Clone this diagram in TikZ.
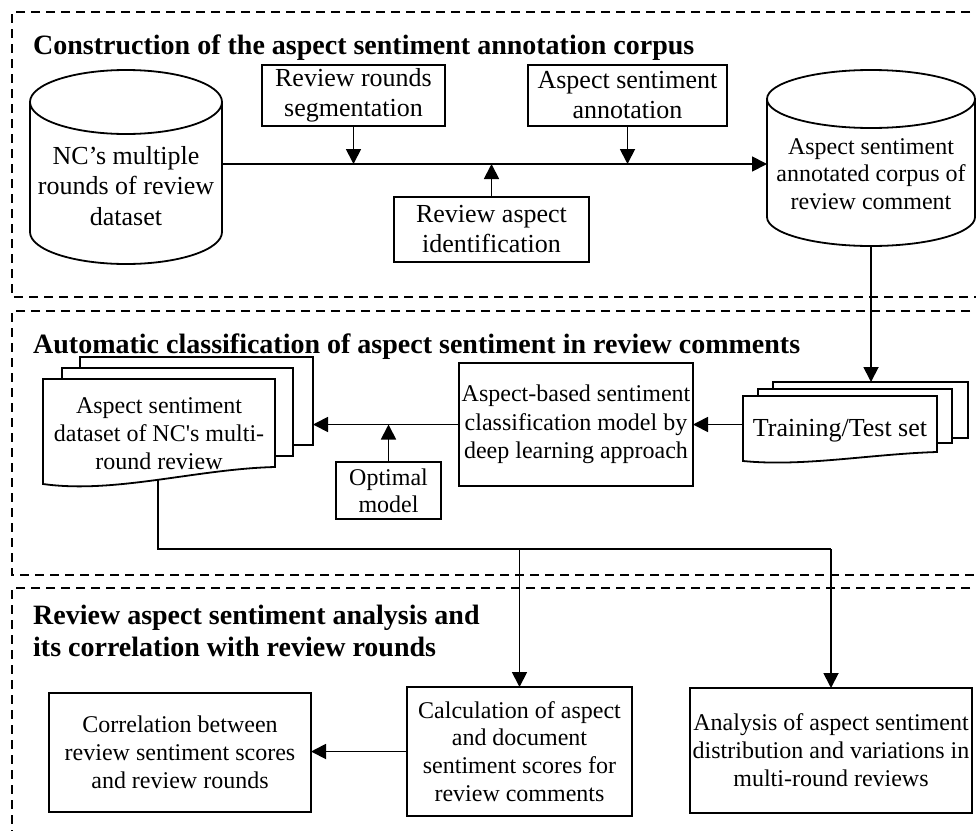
\documentclass[tikz,border=0pt]{standalone}
\usepackage{fontspec}
\setmainfont{Liberation Serif}
\usetikzlibrary{arrows.meta}
\pgfdeclarelayer{bg}
\pgfsetlayers{bg,main}
\tikzset{
  ln/.style={line width=1.8pt},
  box/.style={draw, line width=1.8pt, fill=white, align=center, inner sep=0pt, outer sep=0pt},
  page/.style={draw, line width=1.8pt, fill=white, inner sep=0pt, outer sep=0pt},
  anchorbox/.style={inner sep=0pt, outer sep=0pt},
  fA/.style={font=\fontsize{26}{30}\selectfont},
  fB/.style={font=\fontsize{24}{28}\selectfont},
  ttl/.style={font=\fontsize{28}{32}\selectfont\bfseries, anchor=base west, inner sep=0pt},
  arr/.style={line width=1.8pt, -{Triangle[length=15pt,width=15pt]}},
  sect/.style={line width=1.6pt, dash pattern=on 9pt off 6pt},
}
\begin{document}
\begin{tikzpicture}[x=1pt,y=1pt]
\useasboundingbox (0,0) rectangle (976,-830);

% sections
\draw[sect] (985,-12) -| (12,-297) -- (985,-297);
\draw[sect] (985,-311) -| (12,-575) -- (985,-575);
\draw[sect] (985,-588) -| (12,-845);

% titles
\node[ttl] (t1) at (33,-54) {Construction of the aspect sentiment annotation corpus};
\node[ttl] (t2) at (33,-353) {Automatic classification of aspect sentiment in review comments};
\node[ttl] (t3a) at (33,-624) {Review aspect sentiment analysis and};
\node[ttl] (t3b) at (33,-656) {its correlation with review rounds};

% ---- section 1 ----
% cylinder A
\draw[ln, fill=white] (30,-102) -- (30,-232) arc[start angle=180,end angle=360,x radius=96,y radius=32] -- (222,-102) arc[start angle=0,end angle=180,x radius=96,y radius=32] -- cycle;
\draw[ln] (30,-102) arc[start angle=180,end angle=360,x radius=96,y radius=32];
\node[anchorbox, minimum width=192, minimum height=194] (cylA) at (126,-167) {};
\node[fA, align=center, inner sep=0pt, font=\fontsize{26}{30.5}\selectfont] (cylAtxt) at (126,-186) {NC’s multiple\\rounds of review\\dataset};

% cylinder B
\draw[ln, fill=white] (767,-99) -- (767,-217) arc[start angle=180,end angle=360,x radius=104,y radius=29] -- (975,-99) arc[start angle=0,end angle=180,x radius=104,y radius=29] -- cycle;
\draw[ln] (767,-99) arc[start angle=180,end angle=360,x radius=104,y radius=29];
\node[anchorbox, minimum width=208, minimum height=176] (cylB) at (871,-158) {};
\node[fB, align=center, inner sep=0pt, font=\fontsize{24}{27.5}\selectfont] (cylBtxt) at (871,-174) {Aspect sentiment\\annotated corpus of\\review comment};

\node[box, fA, minimum width=183, minimum height=61] (seg) at (353.5,-95.5) {Review rounds\\segmentation};
\node[box, fA, minimum width=199, minimum height=61] (ann) at (627.5,-95.5) {Aspect sentiment\\annotation};
\node[box, fA, minimum width=195, minimum height=65] (ident) at (491.5,-229.5) {Review aspect\\identification};

\coordinate (j) at (491,-164);
\draw[arr] (cylA.east |- j) -- (cylB.west |- j);
\draw[arr] (seg.south) -- (seg.south |- j);
\draw[arr] (ann.south) -- (ann.south |- j);
\draw[arr] (ident.north) -- (ident.north |- j);

% ---- section 2 ----
% dataset stack
\node[page, minimum width=233, minimum height=88] (ds3) at (196.5,-401) {};
\node[page, minimum width=231, minimum height=88] (ds2) at (177.5,-412) {};
\draw[ln, fill=white] (43,-379) -- (275,-379) -- (275,-467) .. controls (196,-469) and (115,-494) .. (43,-484) -- cycle;
\node[fB, align=center, inner sep=0pt] (ds1) at (159,-434) {Aspect sentiment\\dataset of NC\textquotesingle s multi-\\round review};

% training stack
\node[page, minimum width=195, minimum height=56] (tt3) at (870.5,-410) {};
\node[page, minimum width=194, minimum height=54] (tt2) at (855,-416) {};
\draw[ln, fill=white] (743,-396) -- (937,-396) -- (937,-452) .. controls (871,-454) and (803,-467) .. (743,-461) -- cycle;
\node[fA, inner sep=0pt, minimum width=194] (tt1) at (840,-431) {Training/Test set};

\node[box, fB, minimum width=234, minimum height=123, font=\fontsize{24}{28.5}\selectfont] (absb) at (576,-424.5) {Aspect-based sentiment\\classification model by\\deep learning approach};
\node[box, fB, minimum width=105, minimum height=57, font=\fontsize{24}{27}\selectfont] (opt) at (388.5,-490.5) {Optimal\\model};

\draw[arr] (cylB.south) -- (cylB.south |- tt3.north);
\draw[arr] (tt1.west |- absb.east) -- (absb.east);
\draw[arr] (absb.west) -- (absb.west -| ds3.east);
\draw[arr] (opt.north) -- (opt.north |- absb.west);

% ---- section 3 ----
\node[box, fB, minimum width=262, minimum height=119] (corr) at (180,-752.5) {Correlation between\\review sentiment scores\\and review rounds};
\node[box, fB, minimum width=225, minimum height=129, font=\fontsize{24}{27.7}\selectfont] (calc) at (519.5,-751.5) {Calculation of aspect\\and document\\sentiment scores for\\review comments};
\node[box, fB, minimum width=282, minimum height=125] (anal) at (831,-750.5) {Analysis of aspect sentiment\\distribution and variations in\\multi-round reviews};

\coordinate (bus) at (158,-549);
\begin{pgfonlayer}{bg}
\draw[ln] (ds1.center -| bus) -- (bus) -- (bus -| anal.north);
\end{pgfonlayer}
\draw[arr] (bus -| anal.north) -- (anal.north);
\draw[arr] (bus -| calc.north) -- (calc.north);
\draw[arr] (calc.west) -- (calc.west -| corr.east);
\end{tikzpicture}
\end{document}
